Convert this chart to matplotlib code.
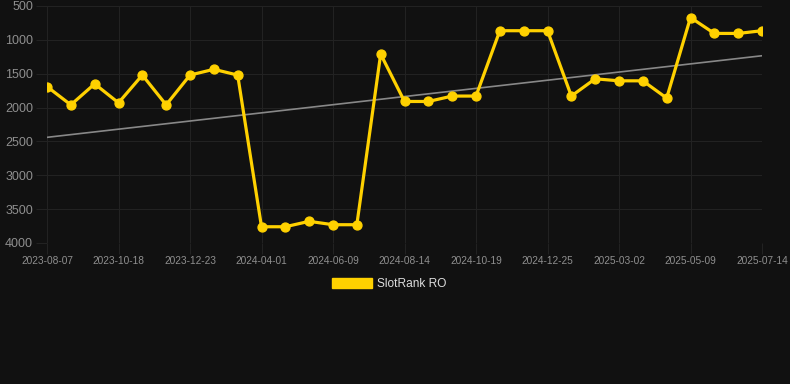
import numpy as np
import matplotlib
matplotlib.use("Agg")
import matplotlib.pyplot as plt
from matplotlib.patches import Patch

# data
dates = ["2023-08-07", "2023-08-31", "2023-09-24", "2023-10-18", "2023-11-09",
         "2023-12-01", "2023-12-23", "2024-01-26", "2024-02-28", "2024-04-01",
         "2024-04-24", "2024-05-17", "2024-06-09", "2024-07-01", "2024-07-23",
         "2024-08-14", "2024-09-05", "2024-09-27", "2024-10-19", "2024-11-10",
         "2024-12-03", "2024-12-25", "2025-01-16", "2025-02-08", "2025-03-02",
         "2025-03-25", "2025-04-16", "2025-05-09", "2025-05-31", "2025-06-22",
         "2025-07-14"]
rank = [1690, 1960, 1650, 1930, 1520, 1960, 1520, 1435, 1520, 3760,
        3760, 3680, 3730, 3730, 1210, 1910, 1910, 1830, 1830, 865,
        865, 865, 1830, 1575, 1605, 1605, 1860, 670, 905, 905, 865]
series_name = "SlotRank RO"
yticks = [500, 1000, 1500, 2000, 2500, 3000, 3500, 4000]

BG = "#111111"
GOLD = "#FFD100"
GRID = "#222222"
TXT = "#8f8f8f"

plt.rcParams["font.family"] = ["Liberation Sans", "DejaVu Sans"]

fig = plt.figure(figsize=(7.9, 3.84), dpi=100, facecolor=BG)
W, H = 790, 384
ax = fig.add_axes([47 / W, 1 - 243 / H, (762 - 47) / W, (243 - 6) / H])
ax.set_facecolor(BG)

x = np.arange(len(rank))

# trend line
k, b = np.polyfit(x, rank, 1)
ax.plot(x, k * x + b, color="#888888", lw=1.2, zorder=2)

ax.plot(x, rank, color=GOLD, lw=2.3, marker="o", markersize=6.4,
        markerfacecolor=GOLD, markeredgecolor=GOLD, zorder=3)

ax.set_xlim(0, len(rank) - 1)
ax.set_ylim(4000, 500)
ax.set_yticks(yticks)
ax.set_yticklabels([str(v) for v in yticks])
ax.set_xticks(x[::3])
ax.set_xticklabels(dates[::3])

ax.grid(True, color=GRID, lw=0.8)
for s in ax.spines.values():
    s.set_visible(False)
ax.tick_params(axis="y", colors=GRID, labelcolor=TXT, labelsize=9,
               length=8, width=0.8, pad=2)
ax.tick_params(axis="x", colors=GRID, labelcolor=TXT, labelsize=7.3,
               length=8, width=0.8, pad=1)

leg = fig.legend(handles=[Patch(facecolor=GOLD, edgecolor=GOLD, label=series_name)],
                 loc="center", bbox_to_anchor=(0.493, 1 - 284 / H),
                 frameon=False, fontsize=8.6, handlelength=3.3,
                 handleheight=1.0, handletextpad=0.5)
for t in leg.get_texts():
    t.set_color("#dddddd")

fig.savefig("out.png", dpi=100, facecolor=BG)
